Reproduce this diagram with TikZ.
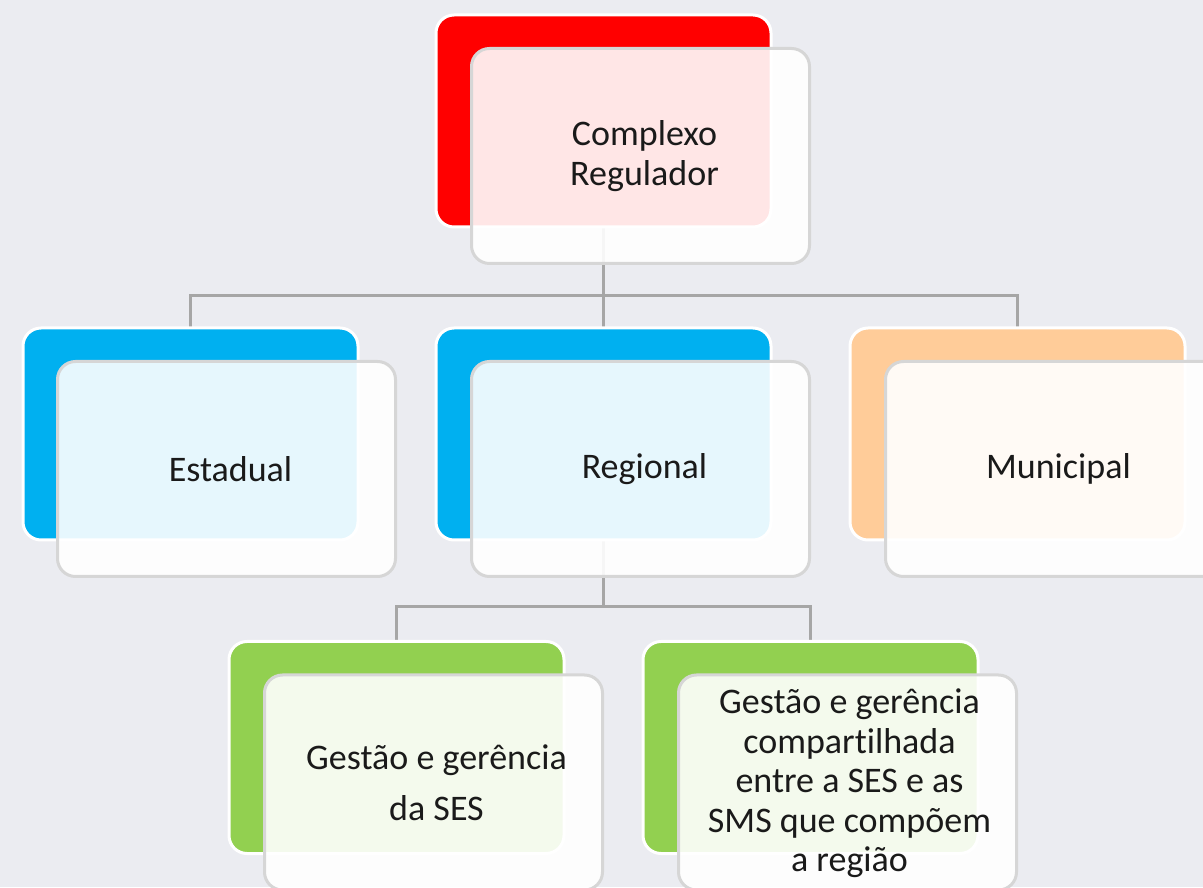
\documentclass[tikz,border=0pt]{standalone}
\usepackage{fontspec}
\setmainfont[Ligatures=NoCommon]{Carlito}
\definecolor{bgc}{RGB}{235,236,241}
\definecolor{redc}{RGB}{255,0,0}
\definecolor{bluec}{RGB}{0,176,240}
\definecolor{orangec}{RGB}{255,204,153}
\definecolor{greenc}{RGB}{146,208,80}
\definecolor{linec}{RGB}{166,166,166}
\definecolor{framec}{RGB}{214,214,214}
\definecolor{txtc}{RGB}{26,26,26}
\pgfdeclarelayer{bg}
\pgfdeclarelayer{connlayer}
\pgfsetlayers{bg,connlayer,main}
\begin{document}
\begin{tikzpicture}[x=1pt,y=1pt,
  backbox/.style={draw=white, line width=3pt, rounded corners=18pt,
    minimum width=335pt, minimum height=212pt, inner sep=0pt, outer sep=0pt},
  frontbox/.style={draw=framec, line width=3pt, fill=white, fill opacity=0.9,
    rounded corners=18pt,
    minimum width=338pt, minimum height=215pt, inner sep=0pt, outer sep=0pt},
  txt/.style={text=txtc, align=center, inner sep=0pt,
    font=\fontsize{36}{39.5}\selectfont},
  conn/.style={draw=linec, line width=3pt}]
\useasboundingbox (0,0) rectangle (1203,887);
\begin{pgfonlayer}{bg}
\fill[bgc] (0,0) rectangle (1203,887);
\end{pgfonlayer}

% back boxes
\node[backbox, fill=redc]    (crb)  at (603.5,766) {};
\node[backbox, fill=bluec]   (estb) at (190.5,453) {};
\node[backbox, fill=bluec]   (regb) at (603.5,453) {};
\node[backbox, fill=orangec] (munb) at (1017.5,453) {};
\node[backbox, fill=greenc]  (g1b)  at (396.5,139.5) {};
\node[backbox, fill=greenc]  (g2b)  at (810.5,139.5) {};

% connectors (behind the back boxes, visible through the front boxes)
\begin{pgfonlayer}{connlayer}
\coordinate (bus1) at (603.5,591);
\coordinate (bus2) at (603.5,280);
\draw[conn] (crb.center) -- (bus1);
\draw[conn] (estb.north) |- (bus1) -| (munb.north);
\draw[conn] (bus1) -- (regb.north);
\draw[conn] (regb.center) -- (bus2);
\draw[conn] (g1b.north) |- (bus2) -| (g2b.north);
\end{pgfonlayer}

% front boxes
\node[frontbox] (cr)  at ([shift={(37,-35)}]crb.center)  {};
\node[frontbox] (est) at ([shift={(36,-35)}]estb.center) {};
\node[frontbox] (reg) at ([shift={(37,-35)}]regb.center) {};
\node[frontbox] (mun) at ([shift={(37,-35)}]munb.center) {};
\node[frontbox] (g1)  at ([shift={(37,-35)}]g1b.center)  {};
\node[frontbox] (g2)  at ([shift={(37,-35)}]g2b.center)  {};

% texts
\node[txt] (crt)  at ([shift={(4,0)}]cr.center)  {Complexo\\Regulador};
\node[txt] (estt) at ([shift={(4,0)}]est.center) {Estadual};
\node[txt] (regt) at ([shift={(4,0)}]reg.center) {Regional};
\node[txt] (munt) at ([shift={(4,0)}]mun.center) {Municipal};
\node[txt] (g1t)  at ([shift={(3,0)}]g1.center)  {Gestão e gerência\\[11pt]da SES};
\node[txt] (g2t)  at ([shift={(2,-1)}]g2.center) {Gestão e gerência\\compartilhada\\entre a SES e as\\SMS que compõem\\a região};
\end{tikzpicture}
\end{document}
